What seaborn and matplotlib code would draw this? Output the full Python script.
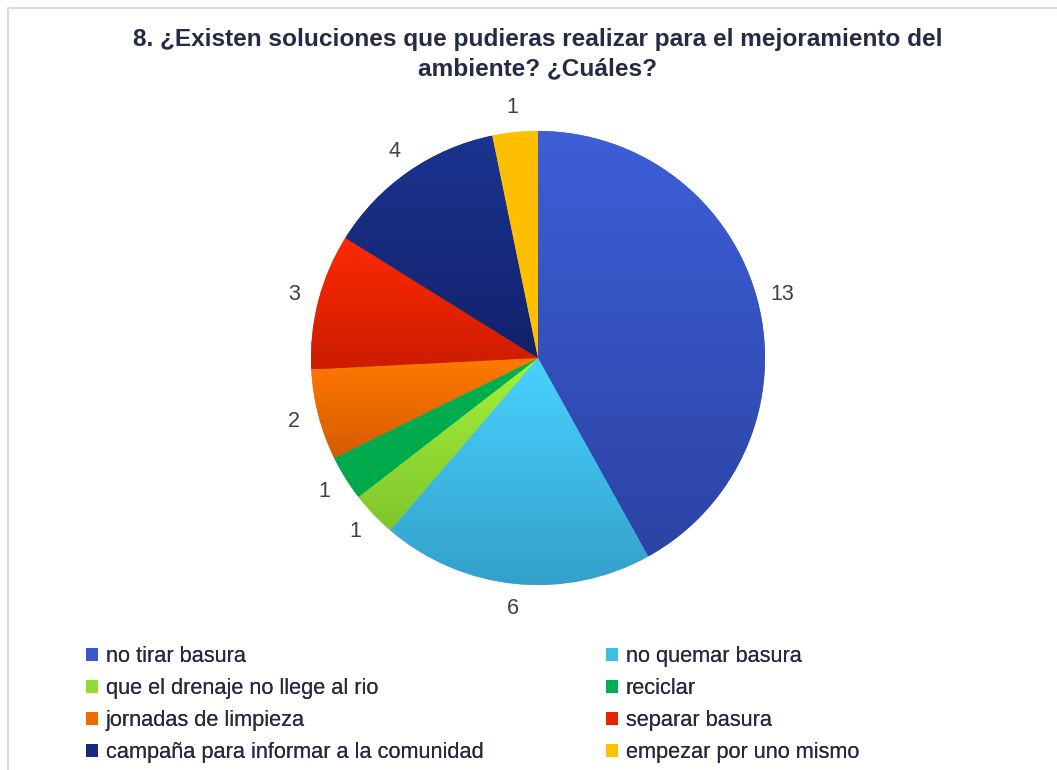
import numpy as np
import matplotlib
matplotlib.use("Agg")
import matplotlib.pyplot as plt
import seaborn as sns
from matplotlib.colors import LinearSegmentedColormap
from matplotlib.patches import Patch, Rectangle

title = "8. ¿Existen soluciones que pudieras realizar para el mejoramiento del\nambiente? ¿Cuáles?"
categories = ["no tirar basura", "no quemar basura", "que el drenaje no llege al rio",
              "reciclar", "jornadas de limpieza", "separar basura",
              "campaña para informar a la comunidad", "empezar por uno mismo"]
values = [13, 6, 1, 1, 2, 3, 4, 1]
top_colors = ["#3D5FD8", "#48D2FF", "#A3F23A", "#00B050", "#FF7A00", "#FF2A00", "#1B3490", "#FFC000"]
bottom_colors = ["#2C43A3", "#33A0CA", "#80C52C", "#00A84C", "#D65A00", "#CC1C00", "#13216B", "#FFC000"]
legend_colors = ["#3A58CC", "#40BCE8", "#90DC34", "#00B050", "#EE6C00", "#E82400", "#172A80", "#FFC000"]

sns.set_theme(style="white")
plt.rcParams['font.family'] = ['Liberation Sans', 'DejaVu Sans']

W, H = 1057, 770
fig = plt.figure(figsize=(W / 100, H / 100), dpi=100)
fig.patch.set_facecolor("white")

R = 227
cx, cy = 538, 358
half = R * 1.3
ax = fig.add_axes([(cx - half) / W, (H - cy - half) / H, 2 * half / W, 2 * half / H])

wedges, texts = ax.pie(values, labels=[str(v) for v in values], startangle=90,
                       counterclock=False, labeldistance=1.11, colors=legend_colors,
                       wedgeprops=dict(linewidth=0),
                       textprops=dict(fontsize=15.5, color="#404040"))
for t in texts:
    t.set_ha("center")

for w, ct, cb in zip(wedges, top_colors, bottom_colors):
    bb = w.get_path().get_extents()
    cmap = LinearSegmentedColormap.from_list("g", [cb, ct])
    grad = np.linspace(1, 0, 256).reshape(-1, 1)
    im = ax.imshow(grad, cmap=cmap, vmin=0, vmax=1, extent=[bb.x0, bb.x1, bb.y0, bb.y1],
                   origin="upper", aspect="auto", interpolation="bicubic", zorder=2)
    im.set_clip_path(w)

ax.set_xlim(-1.3, 1.3)
ax.set_ylim(-1.3, 1.3)
ax.set_aspect("equal")
ax.axis("off")

fig.text(cx / W, 1 - 54 / H, title, ha="center", va="center", multialignment="center",
         fontsize=17.6, fontweight="bold", color="#252A45", linespacing=1.38)

legend_kw = dict(loc="upper left", frameon=False, fontsize=15.7, handlelength=0.55,
                 handleheight=0.55, handletextpad=0.35, labelspacing=0.51, borderpad=0,
                 borderaxespad=0, labelcolor="#262A40")
for col, x0 in ((0, 86), (1, 606)):
    idx = list(range(col, len(categories), 2))
    handles = [Patch(facecolor=legend_colors[i], edgecolor="none") for i in idx]
    leg = fig.legend(handles, [categories[i] for i in idx],
                     bbox_to_anchor=(x0 / W, 1 - 646 / H), **legend_kw)
    fig.add_artist(leg)

fig.add_artist(Rectangle((8 / W, -0.02), 1.0, (H - 8) / H + 0.02, transform=fig.transFigure,
                         fill=False, edgecolor="#D9D9F0", linewidth=1.5))

fig.savefig("out.png", dpi=100)
